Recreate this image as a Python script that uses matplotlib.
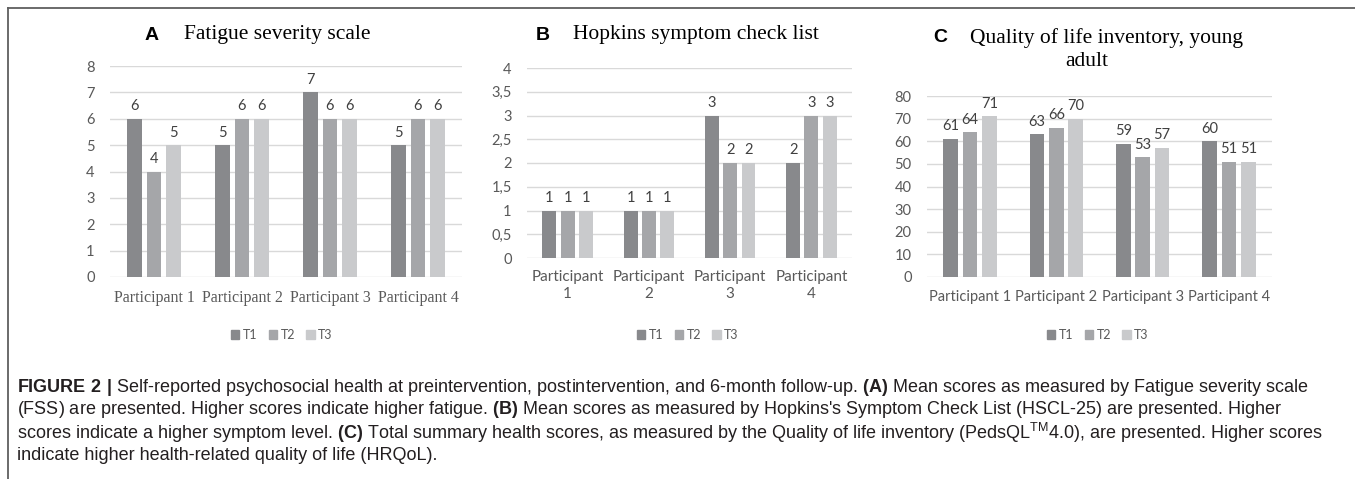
import matplotlib
matplotlib.use("Agg")
import matplotlib.pyplot as plt
from matplotlib.patches import Patch
from matplotlib.lines import Line2D
from matplotlib.ticker import FuncFormatter

# data
participants = ["Participant 1", "Participant 2", "Participant 3", "Participant 4"]
times = ["T1", "T2", "T3"]
fss = [[6, 5, 7, 5], [4, 6, 6, 6], [5, 6, 6, 6]]
hscl = [[1, 1, 3, 2], [1, 1, 2, 3], [1, 1, 2, 3]]
qol = [[61, 63, 59, 60], [64, 66, 53, 51], [71, 70, 57, 51]]

colors = ["#88898c", "#a5a6a9", "#c9cacc"]
W, H = 1355, 479
SANS = ["Lato", "DejaVu Sans"]
SERIF = ["Liberation Serif", "DejaVu Serif"]
CAP = ["Liberation Sans", "DejaVu Sans"]

plt.rcParams["mathtext.fontset"] = "custom"
plt.rcParams["mathtext.rm"] = "Liberation Sans"
plt.rcParams["mathtext.bf"] = "Liberation Sans:bold"


def box(x0, y0, x1, y1):
    # pixel box (top-left origin) -> figure fraction rect
    return [x0 / W, 1 - y1 / H, (x1 - x0) / W, (y1 - y0) / H]


def fx(x):
    return x / W


def fy(y):
    return 1 - y / H


fig = plt.figure(figsize=(W / 100, H / 100), dpi=100)


def panel(rect, data, ymax, step, xlabels, xfont, xsize, fmt=None):
    ax = fig.add_axes(rect)
    n = len(participants)
    for i, vals in enumerate(data):
        xs = [j + (i - 1) * 0.225 for j in range(n)]
        bars = ax.bar(xs, vals, width=0.17, color=colors[i], zorder=3)
        ax.bar_label(bars, padding=4, fontsize=10.5, color="#404040",
                     family=SANS)
    ax.set_xlim(-0.5, n - 0.5)
    ax.set_ylim(0, ymax)
    ticks = [k * step for k in range(int(round(ymax / step)) + 1)]
    ax.set_yticks(ticks)
    if fmt:
        ax.yaxis.set_major_formatter(FuncFormatter(fmt))
    ax.grid(axis="y", color="#d9d9d9", linewidth=1, zorder=0)
    for s in ax.spines.values():
        s.set_visible(False)
    ax.set_xticks(range(n))
    ax.set_xticklabels(xlabels, family=xfont, fontsize=xsize, color="#595959")
    ax.tick_params(axis="y", length=0, pad=11, labelsize=10.5,
                   labelcolor="#595959")
    ax.tick_params(axis="x", length=0, pad=9)
    for t in ax.get_yticklabels():
        t.set_family(SANS)
    return ax


def comma(v, pos):
    return ("%g" % v).replace(".", ",")


panel(box(110, 66, 462, 277), fss, 8, 1, participants, SERIF, 11.5)
panel(box(527, 68, 852, 258), hscl, 4, 0.5,
      [p.replace(" ", "\n") for p in participants], SANS, 11, comma)
panel(box(927, 96, 1272, 277), qol, 80, 10, participants, SANS, 10.5)

# titles
TS = 15.5
fig.text(fx(152), fy(35), "A", ha="center", va="center", fontsize=14,
         fontweight="bold", family=CAP)
fig.text(fx(184), fy(34), "Fatigue severity scale", ha="left", va="center",
         fontsize=TS, family=SERIF)
fig.text(fx(543), fy(35), "B", ha="center", va="center", fontsize=14,
         fontweight="bold", family=CAP)
fig.text(fx(573), fy(34), "Hopkins symptom check list", ha="left",
         va="center", fontsize=TS, family=SERIF)
fig.text(fx(940), fy(38), "C", ha="center", va="center", fontsize=14,
         fontweight="bold", family=CAP)
fig.text(fx(970), fy(38), "Quality of life inventory, young", ha="left",
         va="center", fontsize=TS, family=SERIF)
fig.text(fx(1087), fy(62), "adult", ha="center", va="center", fontsize=TS,
         family=SERIF)

# legends
handles = [Patch(color=c) for c in colors]
for cx in [282, 688, 1098]:
    fig.legend(handles, times, loc="center", bbox_to_anchor=(fx(cx), fy(335)),
               ncol=3, frameon=False, handlelength=0.65,
               handleheight=0.65, handletextpad=0.3, columnspacing=0.9,
               labelcolor="#595959", prop={"family": SANS, "size": 9})

# frame lines
fig.add_artist(Line2D([fx(8), 1], [fy(8), fy(8)], color="#5f5f5f", lw=1.3))
fig.add_artist(Line2D([fx(8), fx(8)], [fy(8), 0], color="#5f5f5f", lw=1.3))

# caption
caption = [
    r"$\bf{FIGURE\ 2\ |}$ Self-reported psychosocial health at preintervention, postintervention, and 6-month follow-up. "
    r"$\bf{(A)}$ Mean scores as measured by Fatigue severity scale",
    r"(FSS) are presented. Higher scores indicate higher fatigue. $\bf{(B)}$ Mean scores as measured by "
    r"Hopkins's Symptom Check List (HSCL-25) are presented. Higher",
    r"scores indicate a higher symptom level. $\bf{(C)}$ Total summary health scores, as measured by the "
    r"Quality of life inventory (PedsQL$^{\rm TM}$4.0), are presented. Higher scores",
    r"indicate higher health-related quality of life (HRQoL).",
]
for k, line in enumerate(caption):
    fig.text(fx(17), fy(387 + 23 * k), line, ha="left", va="center",
             fontsize=13, color="#231f20", family=CAP)

fig.savefig("out.png", dpi=100)
